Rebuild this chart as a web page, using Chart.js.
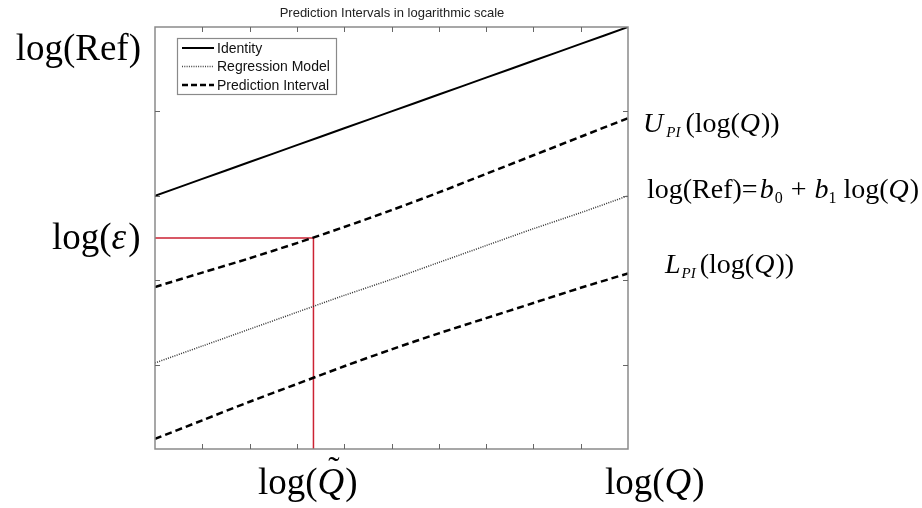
<!DOCTYPE html>
<html>
<head>
<meta charset="utf-8">
<script src="https://cdn.jsdelivr.net/npm/chart.js@4.4.1/dist/chart.umd.min.js"></script>
<style>
  body { margin: 0; background: #fff; }
  #wrap { width: 922px; height: 508px; position: relative; }
</style>
</head>
<body>
<div id="wrap"><canvas id="myChart"></canvas></div>
<script>
// x positions (log Q, arbitrary units) and the curves
const logQ = [0, 1, 2, 3, 4, 5, 6, 7, 8, 9, 10];
const identity = [3.0, 3.2, 3.4, 3.6, 3.8, 4.0, 4.2, 4.4, 4.6, 4.8, 5.0];
const regression = [1.02, 1.22, 1.42, 1.62, 1.82, 2.01, 2.21, 2.41, 2.61, 2.80, 3.0];
const upperPI = [1.92, 2.09, 2.26, 2.44, 2.63, 2.83, 3.04, 3.26, 3.48, 3.70, 3.92];
const lowerPI = [0.12, 0.34, 0.56, 0.77, 0.98, 1.18, 1.37, 1.55, 1.73, 1.91, 2.08];

// red guide: log(eps) level and matching log(Q~)
const logEps = 2.5;
const logQtilde = 3.35;

// tick positions
const xTicks = [1, 2, 3, 4, 5, 6, 7, 8, 9];
const yTicks = [1, 2, 3, 4];

const legendItems = ['Identity', 'Regression Model', 'Prediction Interval'];

const pts = (ys) => logQ.map((x, i) => ({ x: x, y: ys[i] }));

const ctx = document.getElementById('myChart').getContext('2d');

const serif = '"Liberation Serif", "Times New Roman", serif';

// draw a run of text pieces one after another
function drawRich(c, x, y, parts) {
    parts.forEach(p => {
        c.font = (p.i ? 'italic ' : '') + p.s + 'px ' + serif;
        c.fillText(p.t, x + (p.gap || 0), y + (p.dy || 0));
        x += (p.gap || 0) + c.measureText(p.t).width;
    });
    return x;
}

const decor = {
    id: 'decor',
    afterDraw(chart) {
        const c = chart.ctx;
        const a = chart.chartArea;
        const xs = chart.scales.x, ys = chart.scales.y;
        c.save();

        // axes box + inward ticks
        c.strokeStyle = '#8a8a8a';
        c.lineWidth = 1.5;
        c.strokeRect(a.left, a.top, a.right - a.left, a.bottom - a.top);
        c.lineWidth = 1;
        c.strokeStyle = '#666';
        c.beginPath();
        xTicks.forEach(v => {
            const px = Math.round(xs.getPixelForValue(v)) + 0.5;
            c.moveTo(px, a.bottom); c.lineTo(px, a.bottom - 5);
            c.moveTo(px, a.top); c.lineTo(px, a.top + 5);
        });
        yTicks.forEach(v => {
            const py = Math.round(ys.getPixelForValue(v)) + 0.5;
            c.moveTo(a.left, py); c.lineTo(a.left + 5, py);
            c.moveTo(a.right, py); c.lineTo(a.right - 5, py);
        });
        c.stroke();

        // title
        c.fillStyle = '#222';
        c.font = '13px "Liberation Sans", Arial, sans-serif';
        c.textAlign = 'center';
        c.textBaseline = 'alphabetic';
        c.fillText('Prediction Intervals in logarithmic scale', (a.left + a.right) / 2 + 0.5, 17);

        // legend box
        const lx = 177, ly = 38, lw = 159, lh = 56;
        c.fillStyle = '#fff';
        c.fillRect(lx, ly, lw, lh);
        c.strokeStyle = '#8a8a8a';
        c.lineWidth = 1.2;
        c.strokeRect(lx + 0.5, ly + 0.5, lw, lh);
        const styles = [
            { w: 2, d: [] },
            { w: 1.4, d: [1, 1.3], col: '#444' },
            { w: 2.5, d: [6, 3] }
        ];
        legendItems.forEach((txt, i) => {
            const yy = ly + 10 + i * 18.5;
            c.beginPath();
            c.setLineDash(styles[i].d);
            c.lineWidth = styles[i].w;
            c.strokeStyle = styles[i].col || '#000';
            c.moveTo(182, yy); c.lineTo(214, yy);
            c.stroke();
            c.setLineDash([]);
            c.fillStyle = '#111';
            c.textAlign = 'left';
            c.textBaseline = 'middle';
            c.font = '14px "Liberation Sans", Arial, sans-serif';
            c.fillText(txt, 217, yy + 1);
        });

        // big math labels
        c.fillStyle = '#000';
        c.textBaseline = 'alphabetic';
        c.textAlign = 'right';
        c.font = '37px ' + serif;
        c.fillText('log(Ref)', 141, 60);
        c.textAlign = 'left';
        drawRich(c, 52, 249, [
            { t: 'log(', s: 37 }, { t: 'ε', s: 37, i: true }, { t: ')', s: 37, gap: 2 }
        ]);

        // bottom labels
        let qx = drawRich(c, 258, 494, [{ t: 'log(', s: 37 }]);
        c.font = 'italic 37px ' + serif;
        const qw = c.measureText('Q').width;
        c.fillText('Q', qx, 494);
        c.font = '34px ' + serif;
        c.textAlign = 'center';
        c.fillText('˜', qx + qw / 2 + 3, 480);
        c.textAlign = 'left';
        c.font = '37px ' + serif;
        c.fillText(')', qx + qw + 1, 494);

        drawRich(c, 605, 494, [
            { t: 'log(', s: 37 }, { t: 'Q', s: 37, i: true }, { t: ')', s: 37, gap: 1 }
        ]);

        // right labels
        drawRich(c, 643, 132, [
            { t: 'U', s: 28, i: true },
            { t: 'PI', s: 15, i: true, dy: 5, gap: 3 },
            { t: '(log(', s: 28, gap: 5 }, { t: 'Q', s: 28, i: true }, { t: '))', s: 28, gap: 1 }
        ]);
        drawRich(c, 647, 198, [
            { t: 'log(Ref)=', s: 28 },
            { t: 'b', s: 28, i: true, gap: 2 },
            { t: '0', s: 16, dy: 5, gap: 1 },
            { t: '+', s: 28, gap: 8 },
            { t: 'b', s: 28, i: true, gap: 8 },
            { t: '1', s: 16, dy: 5 },
            { t: 'log(', s: 28, gap: 7 }, { t: 'Q', s: 28, i: true }, { t: ')', s: 28, gap: 1 }
        ]);
        drawRich(c, 665, 273, [
            { t: 'L', s: 28, i: true },
            { t: 'PI', s: 15, i: true, dy: 5, gap: 1 },
            { t: '(log(', s: 28, gap: 4 }, { t: 'Q', s: 28, i: true }, { t: '))', s: 28, gap: 1 }
        ]);

        c.restore();
    }
};

const data = {
    datasets: [
        {
            label: 'Identity',
            data: pts(identity),
            borderColor: '#000',
            borderWidth: 2,
        },
        {
            label: 'Regression Model',
            data: pts(regression),
            borderColor: '#333',
            borderWidth: 1.5,
            borderDash: [1, 1.3],
        },
        {
            label: 'Prediction Interval',
            data: pts(upperPI),
            borderColor: '#000',
            borderWidth: 2.5,
            borderDash: [7, 4],
        },
        {
            label: 'Prediction Interval (lower)',
            data: pts(lowerPI),
            borderColor: '#000',
            borderWidth: 2.5,
            borderDash: [7, 4],
        },
        {
            label: 'eps level',
            data: [{ x: 0, y: logEps }, { x: logQtilde, y: logEps }, { x: logQtilde, y: 0 }],
            borderColor: '#cc2233',
            borderWidth: 1.5,
            tension: 0,
        },
    ],
};

const config = {
    type: 'line',
    data: data,
    options: {
        responsive: true,
        maintainAspectRatio: false,
        animation: false,
        layout: { padding: { left: 155, right: 294, top: 27, bottom: 59 } },
        elements: { point: { radius: 0 }, line: { tension: 0.3, fill: false } },
        plugins: {
            legend: { display: false },
            title: { display: false },
            tooltip: { enabled: false },
        },
        scales: {
            x: { type: 'linear', min: 0, max: 10, display: false },
            y: { type: 'linear', min: 0, max: 5, display: false },
        },
    },
    plugins: [decor],
};

const myChart = new Chart(ctx, config);
</script>
</body>
</html>
